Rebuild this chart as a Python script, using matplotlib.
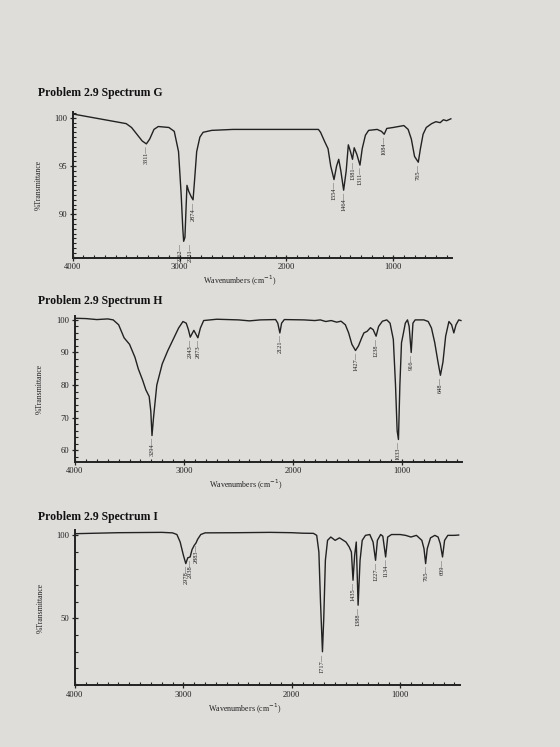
import matplotlib.pyplot as plt
from matplotlib.ticker import MultipleLocator

plt.rcParams['font.family'] = ['Liberation Serif', 'DejaVu Serif']

# spectrum G : wavenumber (cm-1) and % transmittance
g_wn = [4000, 3800, 3600, 3500, 3450, 3400, 3350, 3311, 3280, 3240, 3200, 3100,
        3050, 3010, 2985, 2970, 2962, 2950, 2940, 2931, 2915, 2890, 2874, 2860,
        2840, 2810, 2780, 2700, 2500, 2000, 1700, 1680, 1640, 1610, 1585, 1554,
        1530, 1510, 1490, 1464, 1440, 1420, 1400, 1381, 1365, 1340, 1311, 1290,
        1260, 1230, 1150, 1110, 1084, 1060, 1000, 900, 860, 830, 800, 765, 745,
        720, 690, 640, 600, 560, 530, 500, 460]
g_t = [100.4, 100.0, 99.6, 99.4, 99.0, 98.3, 97.6, 97.3, 97.8, 98.8, 99.1, 99.0,
       98.6, 96.5, 92.0, 88.5, 87.2, 87.6, 90.5, 93.0, 92.4, 91.8, 91.5, 93.5,
       96.5, 98.0, 98.5, 98.7, 98.8, 98.8, 98.8, 98.5, 97.5, 96.8, 95.0, 93.6,
       95.0, 95.7, 94.5, 92.5, 94.5, 97.2, 96.5, 95.7, 96.9, 96.2, 95.1, 96.8,
       98.2, 98.7, 98.8, 98.6, 98.3, 98.9, 99.0, 99.2, 98.8, 97.8, 96.0, 95.4, 96.8,
       98.3, 99.0, 99.4, 99.6, 99.5, 99.8, 99.7, 99.9]
g_peaks = [3311, 2962, 2931, 2874, 1554, 1464, 1381, 1311, 1084, 765]
g_labels = ['3311', '2962', '2931', '2874', '1554', '1464', '1381', '1311', '1084', '765']
g_shift = [0, -2.5, 2.5, 0, 0, 0, 0, 0, 0, 0]
g_hang = [87.2 if p == 2931 else None for p in g_peaks]

# spectrum H
h_wn = [4000, 3900, 3800, 3700, 3650, 3600, 3550, 3500, 3450, 3420, 3380, 3350,
        3320, 3305, 3294, 3280, 3250, 3200, 3150, 3100, 3050, 3010, 2980, 2960,
        2943, 2910, 2873, 2850, 2820, 2700, 2500, 2400, 2300, 2160, 2140, 2121,
        2105, 2080, 1900, 1800, 1750, 1700, 1650, 1600, 1560, 1520, 1490, 1460,
        1427, 1400, 1370, 1350, 1320, 1290, 1265, 1238, 1215, 1180, 1140, 1110,
        1080, 1060, 1045, 1033, 1020, 1005, 990, 970, 950, 935, 916, 900, 880,
        800, 760, 730, 700, 670, 648, 625, 600, 570, 545, 525, 505, 480, 460]
h_t = [100.5, 100.4, 100.1, 100.3, 100.0, 98.5, 94.5, 92.5, 88.5, 85.0, 81.5, 78.5,
       76.5, 72.0, 64.5, 70.0, 80.0, 86.5, 90.5, 94.0, 97.5, 99.5, 99.0, 97.0,
       94.7, 96.8, 94.5, 97.5, 99.8, 100.2, 100.0, 99.7, 100.0, 100.1, 99.0, 96.0,
       99.0, 100.1, 100.0, 99.8, 100.0, 99.5, 99.8, 99.3, 99.6, 98.5, 96.0, 92.5,
       90.6, 92.0, 94.5, 96.0, 96.5, 97.6, 97.0, 95.0, 98.0, 99.6, 100.0, 99.0,
       94.0, 80.0, 66.0, 63.3, 80.0, 93.0, 95.5, 99.0, 100.0, 98.0, 90.0, 99.0, 100.0,
       100.0, 99.5, 97.5, 93.0, 87.0, 83.0, 87.0, 95.0, 99.5, 98.5, 96.0, 98.5, 100.0, 99.8]
h_peaks = [3294, 2943, 2873, 2121, 1427, 1238, 1033, 916, 648]
h_labels = ['3294', '2943', '2873', '2121', '1427', '1238', '1033', '916', '648']
h_shift = [0, 0, 0, 0, 0, 0, 0, 0, 0]
h_hang = [None] * len(h_peaks)

# spectrum I
i_wn = [4000, 3800, 3600, 3400, 3200, 3100, 3060, 3030, 3000, 2978, 2960, 2938,
        2920, 2900, 2883, 2870, 2840, 2800, 2500, 2200, 2000, 1900, 1800, 1770,
        1750, 1735, 1717, 1705, 1690, 1670, 1640, 1600, 1560, 1500, 1470, 1450,
        1435, 1420, 1405, 1388, 1370, 1350, 1320, 1280, 1250, 1227, 1210, 1180,
        1160, 1134, 1115, 1080, 1000, 950, 900, 850, 800, 780, 765, 750, 720, 680,
        650, 630, 609, 590, 560, 500, 460]
i_t = [101.0, 101.3, 101.6, 101.7, 101.8, 101.5, 100.5, 96.0, 88.0, 83.0, 86.5, 87.0,
       91.5, 94.0, 95.5, 97.5, 100.5, 101.5, 101.6, 101.8, 101.6, 101.3, 101.2, 100.0,
       90.0, 60.0, 30.0, 50.0, 85.0, 97.0, 99.0, 97.0, 98.5, 96.0, 93.0, 90.0,
       73.0, 88.0, 96.0, 58.0, 85.0, 97.0, 100.0, 100.5, 96.0, 85.0, 97.0, 100.5,
       99.5, 87.0, 99.0, 100.5, 100.5, 100.0, 99.0, 100.0, 97.0, 92.0, 83.0, 92.0, 98.5, 100.0,
       99.0, 95.0, 87.0, 97.0, 100.0, 100.0, 100.2]
i_peaks = [2978, 2938, 2883, 1717, 1435, 1388, 1227, 1134, 765, 609]
i_labels = ['2978', '2938', '2883', '1717', '1435', '1388', '1227', '1134', '765', '609']
i_shift = [0, 0, 0, 0, 0, 0, 0, 0, 0, 0]
i_hang = [None] * len(i_peaks)

paper = '#deddda'
ink = '#222222'


def spectrum(fig, rect, title, title_y, wn, t, peaks, labels, shift, hang,
             ylim, ymajor, yminor):
    ax = fig.add_axes(rect)
    ax.set_facecolor(paper)
    ax.plot(wn, t, color=ink, lw=1.0)
    ax.set_xlim(4000, 450)
    ax.set_ylim(*ylim)
    for s in ['top', 'right']:
        ax.spines[s].set_visible(False)
    for s in ['left', 'bottom']:
        ax.spines[s].set_linewidth(1.4)
        ax.spines[s].set_color(ink)
    ax.xaxis.set_major_locator(MultipleLocator(1000))
    ax.xaxis.set_minor_locator(MultipleLocator(100))
    ax.yaxis.set_major_locator(MultipleLocator(ymajor))
    ax.yaxis.set_minor_locator(MultipleLocator(yminor))
    ax.tick_params(which='major', direction='inout', length=5, width=0.9,
                   labelsize=6.2, colors=ink, pad=1.5)
    ax.tick_params(which='minor', direction='in', length=2.2, width=0.8, colors=ink)
    ax.set_xlabel('Wavenumbers (cm$^{-1}$)', fontsize=5.8, color=ink, labelpad=1)
    ax.xaxis.set_label_coords(0.44, -0.11)
    ax.set_ylabel('%Transmittance', fontsize=5.5, color=ink)
    ax.yaxis.set_label_coords(-0.08, 0.5)
    # peak labels hang under each dip
    for p, lab, dx, hy in zip(peaks, labels, shift, hang):
        y = t[wn.index(p)] if hy is None else hy
        ax.annotate(lab + '\u2014', xy=(p, y), xytext=(dx, -1.2),
                    textcoords='offset points', rotation=90, ha='center',
                    va='top', fontsize=4.6, color=ink)
    fig.text(0.068, title_y, title, fontsize=8.5, fontweight='bold', color='#111111')
    return ax


fig = plt.figure(figsize=(5.6, 7.47), dpi=100, facecolor=paper)

spectrum(fig, [0.130, 0.655, 0.677, 0.195], 'Problem 2.9 Spectrum G', 0.872,
         g_wn, g_t, g_peaks, g_labels, g_shift, g_hang, (85.5, 100.6), 5, 0.5)
spectrum(fig, [0.134, 0.382, 0.691, 0.195], 'Problem 2.9 Spectrum H', 0.593,
         h_wn, h_t, h_peaks, h_labels, h_shift, h_hang, (56.5, 101.2), 10, 2)
spectrum(fig, [0.134, 0.083, 0.687, 0.207], 'Problem 2.9 Spectrum I', 0.304,
         i_wn, i_t, i_peaks, i_labels, i_shift, i_hang, (10, 103), 50, 10)

fig.savefig('out.png', dpi=100, facecolor=paper)
